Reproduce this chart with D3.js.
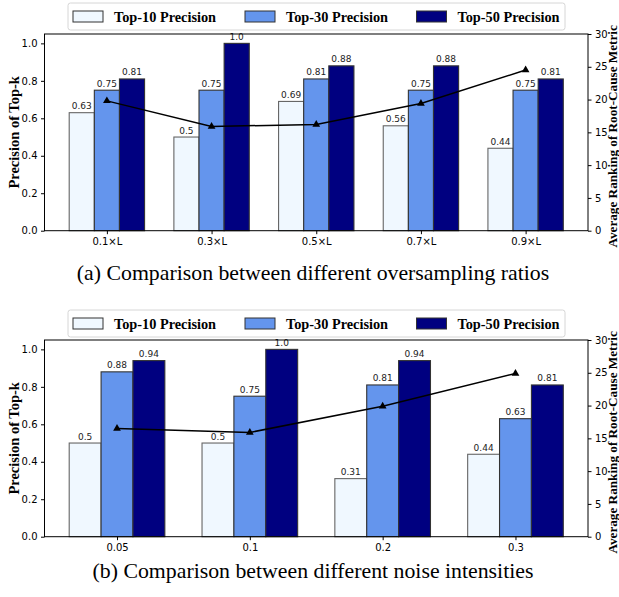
<!DOCTYPE html>
<html lang="en">
<head>
  <meta charset="UTF-8">
  <title>Top-k precision</title>
  <style>
    body { margin: 0; background: #fff; }
  </style>
</head>
<body>
  <svg width=619 height=597 id="viz"></svg>

  <script src="https://cdn.jsdelivr.net/npm/d3@7"></script>
  <script>
/* global d3 */

// series names shared by both panels
const seriesNames = ["Top-10 Precision", "Top-30 Precision", "Top-50 Precision"];
const seriesColors = ["#f0f8ff", "#6495ed", "#000080"];

// panel (a): oversampling ratios
const ratioLabels = ["0.1×L", "0.3×L", "0.5×L", "0.7×L", "0.9×L"];
const ratioTop10 = [0.63, 0.5, 0.69, 0.56, 0.44];
const ratioTop30 = [0.75, 0.75, 0.81, 0.75, 0.75];
const ratioTop50 = [0.81, 1.0, 0.88, 0.88, 0.81];
const ratioRank = [19.8, 15.9, 16.2, 19.4, 24.5];

// panel (b): noise intensities
const noiseLabels = ["0.05", "0.1", "0.2", "0.3"];
const noiseTop10 = [0.5, 0.5, 0.31, 0.44];
const noiseTop30 = [0.88, 0.75, 0.81, 0.63];
const noiseTop50 = [0.94, 1.0, 0.94, 0.81];
const noiseRank = [16.5, 15.9, 19.9, 24.9];

const precisionTicks = [0, 0.2, 0.4, 0.6, 0.8, 1.0];
const rankTicks = [0, 5, 10, 15, 20, 25, 30];

let svg = d3.select("#viz");

let left = 44.5, right = 588, barW = 0.24;

function fmt(v) {
  return Number.isInteger(v) ? v.toFixed(1) : String(v);
}

function drawPanel(cfg) {
  let n = cfg.labels.length;
  let span = (n - 1) + 3 * barW;
  let pad = span * 0.05;
  let x = d3.scaleLinear()
    .domain([-1.5 * barW - pad, n - 1 + 1.5 * barW + pad])
    .range([left, right]);
  let y = d3.scaleLinear().domain([0, 1.05]).range([cfg.bottom, cfg.top]);
  let y2 = d3.scaleLinear().domain([0, 30]).range([cfg.bottom, cfg.top]);

  let g = svg.append("g");
  let series = [cfg.top10, cfg.top30, cfg.top50];

  // bars
  series.forEach((vals, si) => {
    let off = (si - 1) * barW;
    g.selectAll(".bar" + si)
      .data(vals)
      .enter()
      .append("rect")
      .attr("x", (d, i) => x(i + off - barW / 2))
      .attr("width", x(barW) - x(0))
      .attr("y", d => y(d))
      .attr("height", d => y(0) - y(d))
      .attr("fill", seriesColors[si])
      .attr("stroke", si === 0 ? "#666" : "#333")
      .attr("stroke-width", 1.1);

    g.selectAll(".lab" + si)
      .data(vals)
      .enter()
      .append("text")
      .attr("x", (d, i) => x(i + off))
      .attr("y", d => y(d) - 3.5)
      .attr("text-anchor", "middle")
      .attr("font-family", "DejaVu Sans")
      .attr("font-size", 9)
      .attr("fill", "#222")
      .text(d => fmt(d));
  });

  // line on right axis
  let line = d3.line()
    .x((d, i) => x(i))
    .y(d => y2(d));
  g.append("path")
    .datum(cfg.rank)
    .attr("d", line)
    .attr("fill", "none")
    .attr("stroke", "#000")
    .attr("stroke-width", 1.5);
  g.selectAll(".marker")
    .data(cfg.rank)
    .enter()
    .append("path")
    .attr("transform", (d, i) => "translate(" + x(i) + "," + y2(d) + ")")
    .attr("d", d3.symbol().type(d3.symbolTriangle).size(26))
    .attr("fill", "#000");

  // frame
  g.append("rect")
    .attr("x", left).attr("y", cfg.top)
    .attr("width", right - left).attr("height", cfg.bottom - cfg.top)
    .attr("fill", "none").attr("stroke", "#000").attr("stroke-width", 1);

  // axes
  let yAxis = g.append("g")
    .attr("transform", "translate(" + left + ",0)")
    .call(d3.axisLeft(y).tickValues(precisionTicks).tickSize(3.5).tickPadding(3.5).tickFormat(d3.format(".1f")));
  let y2Axis = g.append("g")
    .attr("transform", "translate(" + right + ",0)")
    .call(d3.axisRight(y2).tickValues(rankTicks).tickSize(3.5).tickPadding(3.5));
  let xAxis = g.append("g")
    .attr("transform", "translate(0," + cfg.bottom + ")")
    .call(d3.axisBottom(x).tickValues(d3.range(n)).tickSize(3.5).tickPadding(3.5).tickFormat(i => cfg.labels[i]));

  [yAxis, y2Axis, xAxis].forEach(a => {
    a.select(".domain").remove();
    a.selectAll("text").attr("font-family", "DejaVu Sans").attr("font-size", 10).attr("fill", "#000");
    a.selectAll("line").attr("stroke", "#000");
  });

  // axis titles
  let mid = (cfg.top + cfg.bottom) / 2;
  g.append("text")
    .attr("transform", "translate(19," + mid + ") rotate(-90)")
    .attr("text-anchor", "middle")
    .attr("font-family", "Liberation Serif")
    .attr("font-weight", "bold")
    .attr("font-size", 14.5)
    .text("Precision of Top-k");
  g.append("text")
    .attr("transform", "translate(616.5," + (mid + 4) + ") rotate(-90)")
    .attr("text-anchor", "middle")
    .attr("font-family", "Liberation Serif")
    .attr("font-weight", "bold")
    .attr("font-size", 13.2)
    .text("Average Ranking of Root-Cause Metric");

  // legend
  let lg = g.append("g").attr("transform", "translate(0," + cfg.legendTop + ")");
  lg.append("rect")
    .attr("x", 68).attr("y", 0).attr("width", 497).attr("height", 27)
    .attr("rx", 2.5)
    .attr("fill", "#fff").attr("stroke", "#d6d6d6");
  let itemX = [73, 245, 416.5];
  seriesNames.forEach((name, si) => {
    lg.append("rect")
      .attr("x", itemX[si]).attr("y", 8).attr("width", 30).attr("height", 11)
      .attr("fill", seriesColors[si]).attr("stroke", "#333");
    lg.append("text")
      .attr("x", itemX[si] + 41).attr("y", 18.5)
      .attr("font-family", "Liberation Serif")
      .attr("font-weight", "bold")
      .attr("font-size", 14.3)
      .text(name);
  });

  // caption
  svg.append("text")
    .attr("x", 313).attr("y", cfg.captionY)
    .attr("text-anchor", "middle")
    .attr("font-family", "Liberation Serif")
    .attr("font-size", 21.8)
    .text(cfg.caption);
}

drawPanel({
  labels: ratioLabels, top10: ratioTop10, top30: ratioTop30, top50: ratioTop50, rank: ratioRank,
  top: 34, bottom: 230.7, legendTop: 3, captionY: 279.5,
  caption: "(a) Comparison between different oversampling ratios"
});

drawPanel({
  labels: noiseLabels, top10: noiseTop10, top30: noiseTop30, top50: noiseTop50, rank: noiseRank,
  top: 340, bottom: 536.7, legendTop: 310, captionY: 577.5,
  caption: "(b) Comparison between different noise intensities"
});
  </script>
</body>
</html>
